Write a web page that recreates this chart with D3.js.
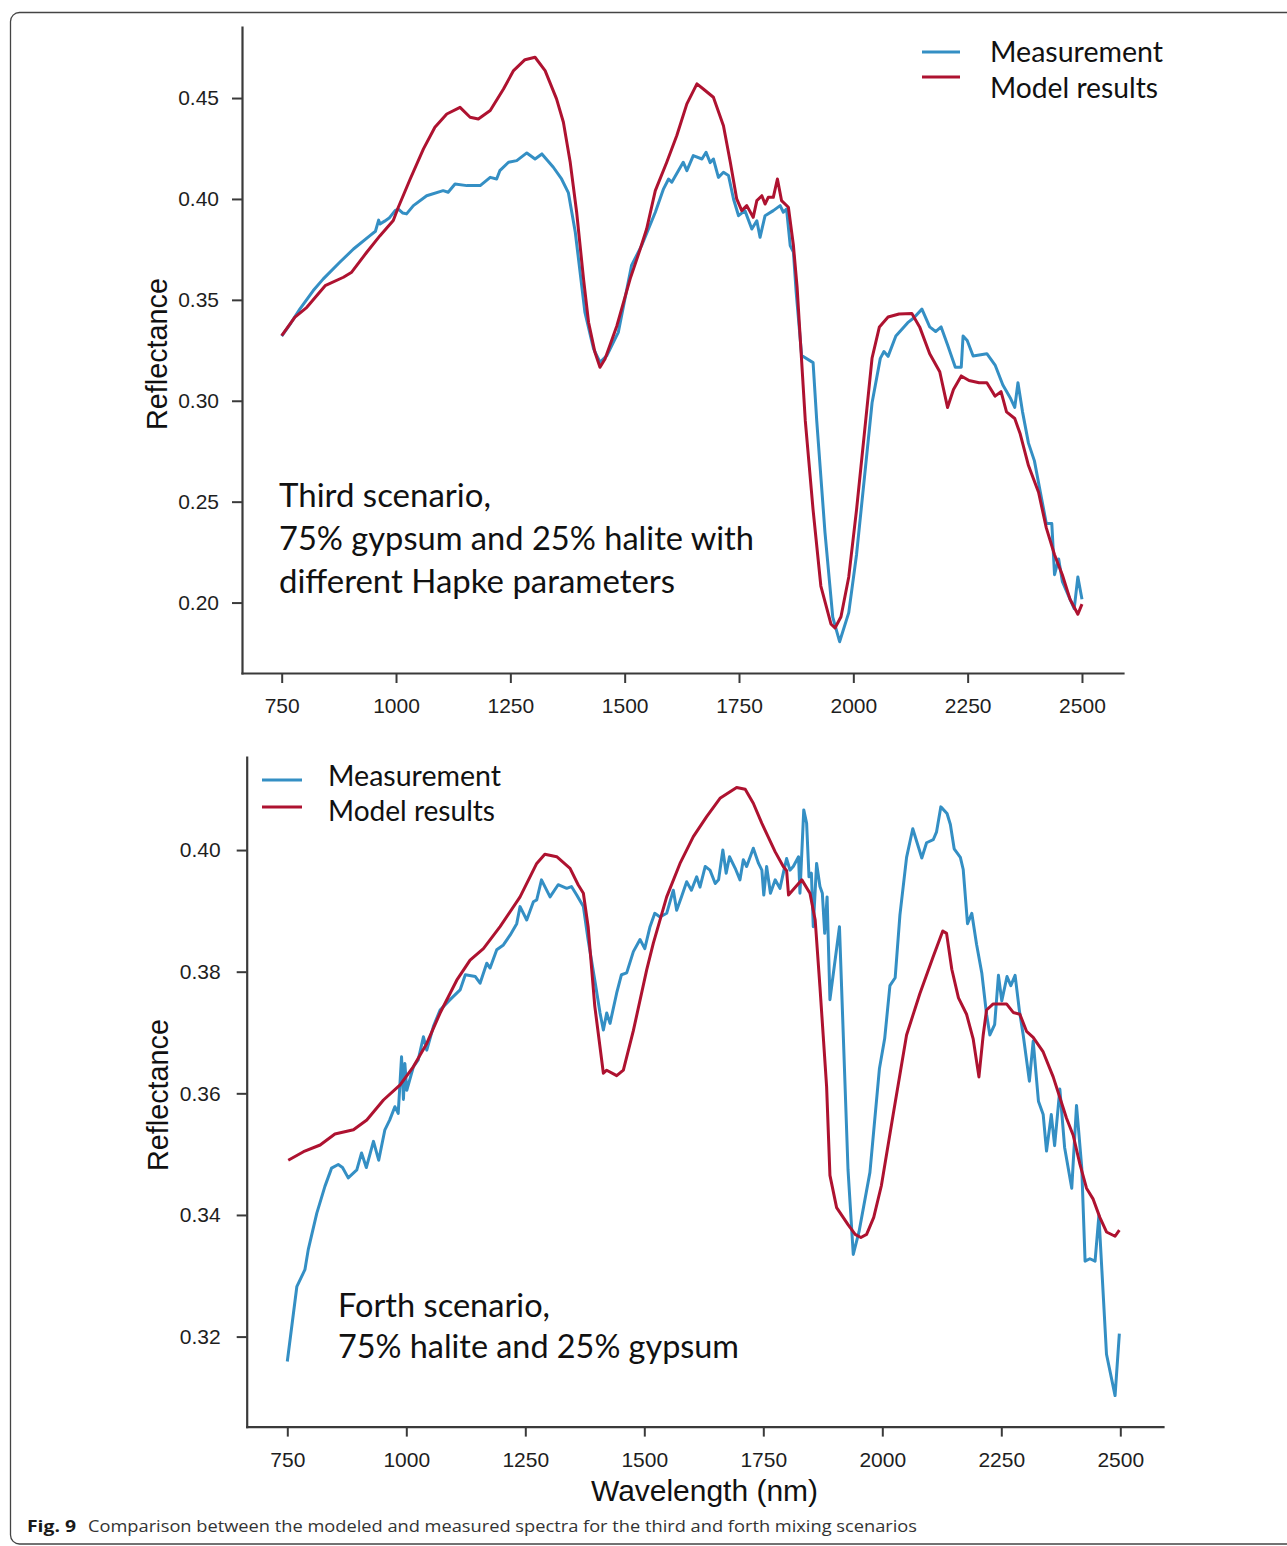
<!DOCTYPE html>
<html>
<head>
<meta charset="utf-8">
<script src="https://cdn.jsdelivr.net/npm/d3@7"></script>
<style>
  html, body { margin: 0; padding: 0; background: #fff; }
  svg { display: block; }
</style>
</head>
<body>
<svg id="fig" width="1287" height="1546"></svg>
<script>
// ---------------- DATA ----------------
const xTickValues = [750, 1000, 1250, 1500, 1750, 2000, 2250, 2500];
const topYTickValues = [0.20, 0.25, 0.30, 0.35, 0.40, 0.45];
const bottomYTickValues = [0.32, 0.34, 0.36, 0.38, 0.40];
const seriesNames = ["Measurement", "Model results"];

// Top panel (third scenario) – Measurement
const topMeasWl = [750,770,790,819,841,877,907,943,955,962,965,975,985,998,1005,1015,1023,1038,1067,1103,1114,1129,1155,1184,1206,1220,1227,1246,1264,1286,1304,1319,1344,1362,1377,1392,1413,1432,1446,1461,1486,1515,1537,1567,1585,1596,1603,1628,1636,1650,1669,1678,1687,1694,1705,1716,1727,1738,1749,1763,1778,1789,1796,1807,1825,1840,1847,1854,1862,1869,1875,1887,1912,1920,1938,1955,1970,1990,2007,2024,2041,2059,2067,2076,2093,2119,2132,2150,2167,2180,2192,2206,2223,2236,2240,2249,2262,2292,2310,2327,2344,2353,2360,2370,2383,2396,2409,2422,2434,2440,2449,2457,2474,2483,2491,2500];
const topMeasR = [0.332,0.3385,0.3455,0.3546,0.3604,0.3686,0.3752,0.3818,0.384,0.3895,0.3876,0.389,0.3905,0.3942,0.395,0.393,0.3926,0.3967,0.4016,0.4041,0.4033,0.4074,0.4066,0.4066,0.4107,0.4099,0.414,0.4182,0.419,0.4228,0.4198,0.4223,0.4157,0.4099,0.403,0.3835,0.3439,0.3257,0.3191,0.3224,0.3339,0.367,0.3769,0.3934,0.405,0.4099,0.4083,0.4182,0.414,0.4215,0.4198,0.4231,0.418,0.4198,0.4107,0.4132,0.4116,0.40,0.3917,0.3942,0.3851,0.3892,0.381,0.3917,0.3942,0.3967,0.3934,0.395,0.3769,0.3736,0.3538,0.3224,0.3189,0.290,0.2348,0.1928,0.1806,0.195,0.2237,0.2613,0.299,0.321,0.3244,0.322,0.3321,0.3387,0.341,0.3454,0.3366,0.3343,0.3366,0.3277,0.3166,0.3166,0.3321,0.3299,0.3222,0.3233,0.3177,0.3078,0.3011,0.2967,0.3089,0.2945,0.279,0.2702,0.2547,0.2392,0.2392,0.2138,0.2216,0.2105,0.2016,0.197,0.2127,0.2016];

// Top panel – Model results
const topModelWl = [750,779,805,845,885,903,936,965,994,1005,1031,1060,1085,1111,1140,1162,1180,1206,1235,1257,1282,1304,1326,1351,1366,1381,1395,1410,1421,1435,1446,1457,1483,1512,1534,1548,1567,1592,1614,1636,1658,1672,1694,1716,1731,1745,1756,1767,1781,1789,1800,1807,1814,1825,1834,1843,1858,1869,1877,1895,1912,1929,1951,1960,1973,1990,2007,2024,2041,2057,2076,2100,2128,2145,2167,2189,2206,2219,2236,2253,2275,2292,2310,2323,2335,2353,2365,2383,2405,2422,2440,2457,2474,2491,2500];
const topModelR = [0.3323,0.3414,0.3463,0.357,0.3612,0.3637,0.3736,0.3818,0.3893,0.3959,0.4099,0.4248,0.4355,0.4421,0.4454,0.4405,0.4396,0.4438,0.4545,0.4636,0.469,0.4702,0.4636,0.4496,0.438,0.418,0.3934,0.3604,0.3389,0.324,0.3166,0.3207,0.3372,0.3604,0.3752,0.3851,0.4041,0.4182,0.4314,0.4471,0.457,0.4545,0.4504,0.4363,0.4182,0.40,0.3942,0.3967,0.3909,0.3992,0.4016,0.3975,0.4008,0.4008,0.4099,0.3992,0.3959,0.3769,0.3564,0.29,0.2459,0.2082,0.1894,0.1874,0.193,0.2127,0.2459,0.2835,0.3212,0.3366,0.3415,0.343,0.3432,0.3366,0.3233,0.3144,0.2967,0.3056,0.3123,0.31,0.3089,0.3089,0.3023,0.3045,0.2945,0.2912,0.2835,0.2679,0.2547,0.237,0.2237,0.2138,0.2016,0.1942,0.1992];

// Bottom panel (forth scenario) – Measurement
const botMeasWl = [750,770,787,794,812,829,843,857,866,878,896,906,916,931,942,955,965,976,983,990,994,997,1001,1015,1025,1036,1043,1057,1071,1092,1113,1124,1145,1155,1169,1176,1190,1204,1218,1232,1239,1253,1267,1274,1284,1302,1319,1337,1347,1358,1372,1382,1396,1407,1414,1421,1428,1442,1452,1463,1477,1491,1501,1512,1522,1533,1547,1561,1568,1578,1589,1599,1610,1617,1628,1638,1649,1656,1665,1672,1679,1691,1701,1708,1715,1729,1740,1747,1751,1757,1765,1775,1785,1792,1799,1806,1813,1824,1827,1835,1841,1846,1851,1855,1862,1869,1874,1879,1884,1890,1910,1928,1939,1951,1974,1994,2005,2016,2027,2037,2051,2064,2083,2093,2107,2114,2123,2136,2143,2151,2164,2170,2179,2188,2198,2209,2219,2226,2236,2244,2251,2262,2270,2279,2288,2296,2309,2317,2328,2338,2345,2355,2362,2373,2383,2398,2408,2419,2426,2436,2447,2455,2471,2489,2498];
const botMeasR = [0.3159,0.3282,0.331,0.3343,0.3403,0.3447,0.3477,0.3483,0.3478,0.3461,0.3474,0.3502,0.3478,0.3521,0.349,0.354,0.3556,0.3578,0.3567,0.366,0.359,0.3649,0.3605,0.3644,0.3655,0.3693,0.3671,0.371,0.3737,0.3754,0.377,0.3795,0.3792,0.3781,0.3814,0.3806,0.3836,0.3844,0.386,0.3879,0.3907,0.3885,0.3915,0.3918,0.3951,0.3923,0.3943,0.3937,0.394,0.3926,0.3907,0.3852,0.3786,0.3732,0.3704,0.3732,0.3715,0.3765,0.3795,0.3798,0.3833,0.3853,0.3838,0.3874,0.3896,0.389,0.3896,0.3934,0.3901,0.3923,0.3948,0.3934,0.3956,0.3939,0.3973,0.3967,0.3945,0.3951,0.40,0.3962,0.3989,0.397,0.3951,0.3984,0.3973,0.4003,0.3978,0.3967,0.3926,0.3973,0.3929,0.3951,0.3937,0.3962,0.3986,0.3967,0.3973,0.3989,0.3929,0.4066,0.4044,0.3956,0.3962,0.3874,0.3978,0.394,0.3929,0.3863,0.3923,0.3754,0.3874,0.3474,0.3335,0.3372,0.347,0.3641,0.369,0.3777,0.379,0.3893,0.3988,0.4035,0.3987,0.4012,0.4017,0.403,0.4071,0.406,0.4042,0.4002,0.3988,0.3968,0.3879,0.3896,0.3845,0.3798,0.373,0.3696,0.3713,0.3794,0.3752,0.3792,0.3777,0.3794,0.3736,0.3696,0.362,0.3686,0.3587,0.3565,0.3505,0.3565,0.3514,0.3607,0.3511,0.3444,0.358,0.3478,0.3324,0.3328,0.3324,0.3399,0.3171,0.3103,0.3205];

// Bottom panel – Model results
const botModelWl = [752,784,819,850,889,917,952,987,1015,1043,1071,1106,1134,1162,1197,1239,1274,1291,1316,1344,1361,1372,1382,1396,1414,1421,1442,1456,1477,1505,1519,1547,1575,1603,1631,1659,1694,1712,1729,1747,1760,1775,1792,1799,1803,1813,1831,1848,1859,1869,1883,1890,1904,1928,1943,1955,1967,1982,1998,2023,2051,2079,2107,2127,2135,2146,2160,2177,2191,2203,2212,2219,2233,2261,2275,2289,2303,2317,2338,2359,2373,2387,2401,2415,2429,2443,2457,2471,2489,2498];
const botModelR = [0.349,0.3504,0.3515,0.3533,0.354,0.3556,0.3589,0.3614,0.3644,0.3682,0.3732,0.3786,0.3819,0.3838,0.3874,0.3923,0.3978,0.3993,0.3989,0.397,0.3943,0.3929,0.3874,0.3743,0.3633,0.3638,0.3629,0.3638,0.3703,0.3803,0.3847,0.3923,0.3978,0.4022,0.4055,0.4085,0.4103,0.41,0.4077,0.4044,0.4022,0.3997,0.3973,0.3966,0.3926,0.3935,0.3951,0.3929,0.3885,0.3775,0.3611,0.3465,0.3412,0.3384,0.3368,0.3363,0.3368,0.3396,0.3448,0.3566,0.3696,0.3764,0.3825,0.3867,0.3863,0.3804,0.3757,0.373,0.3689,0.3627,0.3696,0.3737,0.3747,0.3747,0.3733,0.373,0.3702,0.3692,0.3668,0.3627,0.3593,0.3559,0.3531,0.3484,0.3444,0.3426,0.3396,0.3372,0.3365,0.3375];

// ---------------- DRAWING ----------------
const BLUE = "#348fc4";
const RED = "#ae1230";
const AXIS = "#3a3a3a";
const svg = d3.select("#fig");

// outer figure frame (rounded, open on the right)
svg.append("rect")
  .attr("x", 10.5).attr("y", 12.5)
  .attr("width", 1300).attr("height", 1531.5)
  .attr("rx", 9).attr("ry", 9)
  .attr("fill", "none").attr("stroke", "#444").attr("stroke-width", 1.3);

const zip = (a, b) => a.map((d, i) => [d, b[i]]);

function addText(g, txt, x, y, opts) {
  const t = g.append("text").attr("x", x).attr("y", y).text(txt)
    .attr("font-family", opts.family)
    .attr("font-size", opts.size)
    .attr("fill", opts.fill || "#111");
  if (opts.weight) t.attr("font-weight", opts.weight);
  if (opts.anchor) t.attr("text-anchor", opts.anchor);
  if (opts.len) t.attr("textLength", opts.len).attr("lengthAdjust", "spacingAndGlyphs");
  if (opts.transform) t.attr("transform", opts.transform).attr("x", 0).attr("y", 0);
  return t;
}

function panel(cfg) {
  const x = d3.scaleLinear().domain(cfg.xDomain).range([cfg.left, cfg.right]);
  const y = d3.scaleLinear().domain(cfg.yDomain).range([cfg.bottom, cfg.top]);
  const g = svg.append("g");

  const xAxis = g.append("g").attr("transform", `translate(0,${cfg.bottom})`)
    .call(d3.axisBottom(x).tickValues(xTickValues).tickFormat(d3.format("d"))
      .tickSize(10).tickSizeOuter(0).tickPadding(15));
  const yAxis = g.append("g").attr("transform", `translate(${cfg.left},0)`)
    .call(d3.axisLeft(y).tickValues(cfg.yTicks).tickFormat(d3.format(".2f"))
      .tickSize(10).tickSizeOuter(0).tickPadding(cfg.yPad));
  [xAxis, yAxis].forEach(a => {
    a.select(".domain").attr("stroke", AXIS).attr("stroke-width", 2.2).attr("stroke-linecap", "square");
    a.selectAll(".tick line").attr("stroke", AXIS).attr("stroke-width", 2);
    a.selectAll(".tick text").attr("font-family", "Liberation Sans, Arial, sans-serif")
      .attr("font-size", 21).attr("fill", "#1e1e1e");
  });

  const line = d3.line().x(d => x(d[0])).y(d => y(d[1])).curve(d3.curveLinear);
  g.append("path").datum(zip(cfg.measWl, cfg.measR))
    .attr("d", line).attr("fill", "none").attr("stroke", BLUE)
    .attr("stroke-width", 3).attr("stroke-linejoin", "round");
  g.append("path").datum(zip(cfg.modelWl, cfg.modelR))
    .attr("d", line).attr("fill", "none").attr("stroke", RED)
    .attr("stroke-width", 3).attr("stroke-linejoin", "round");

  // y axis title
  addText(g, "Reflectance", 0, 0, {
    family: "Liberation Sans, Arial, sans-serif", size: 30, fill: "#111",
    anchor: "middle", len: 152,
    transform: `translate(${cfg.yTitleX},${cfg.yTitleY}) rotate(-90)`
  });

  // legend
  const lg = cfg.legend;
  [BLUE, RED].forEach((c, i) => {
    g.append("line").attr("x1", lg.x1).attr("x2", lg.x2)
      .attr("y1", lg.lineY[i]).attr("y2", lg.lineY[i])
      .attr("stroke", c).attr("stroke-width", 3);
    addText(g, seriesNames[i], lg.tx, lg.baseY[i], {
      family: "Lato, 'Open Sans', sans-serif", size: 29, fill: "#111", len: lg.len[i]
    });
  });

  // annotation
  cfg.note.lines.forEach((s, i) => {
    addText(g, s, cfg.note.x, cfg.note.baseY[i], {
      family: "Lato, 'Open Sans', sans-serif", size: 33, fill: "#111", len: cfg.note.len[i]
    });
  });
  return g;
}

panel({
  xDomain: [663.2, 2589.7], yDomain: [0.1651, 0.4852],
  left: 242, right: 1123, top: 27, bottom: 673,
  yTicks: topYTickValues, yPad: 13,
  measWl: topMeasWl, measR: topMeasR, modelWl: topModelWl, modelR: topModelR,
  yTitleX: 167, yTitleY: 354,
  legend: { x1: 922, x2: 960, lineY: [52, 77], tx: 990, baseY: [62, 98], len: [173, 168] },
  note: { x: 279, baseY: [507, 550, 593],
          lines: ["Third scenario,", "75% gypsum and 25% halite with", "different Hapke parameters"],
          len: [212, 475, 396] }
});

panel({
  xDomain: [664.7, 2589.7], yDomain: [0.3052, 0.4153],
  left: 246.7, right: 1163, top: 757, bottom: 1426.6,
  yTicks: bottomYTickValues, yPad: 16,
  measWl: botMeasWl, measR: botMeasR, modelWl: botModelWl, modelR: botModelR,
  yTitleX: 168, yTitleY: 1095,
  legend: { x1: 262, x2: 302, lineY: [780, 807], tx: 328, baseY: [786, 821], len: [173, 167] },
  note: { x: 338, baseY: [1317, 1358],
          lines: ["Forth scenario,", "75% halite and 25% gypsum"],
          len: [212, 401] }
});

// x axis title (shared, under bottom panel)
addText(svg, "Wavelength (nm)", 704.5, 1501, {
  family: "Liberation Sans, Arial, sans-serif", size: 30, fill: "#111", anchor: "middle", len: 227
});

// caption
addText(svg, "Fig. 9", 27, 1532, {
  family: "'Open Sans', Lato, sans-serif", size: 16, weight: "bold", fill: "#1a1a1a", len: 49
});
addText(svg, "Comparison between the modeled and measured spectra for the third and forth mixing scenarios", 88, 1532, {
  family: "'Open Sans', Lato, sans-serif", size: 16, fill: "#333", len: 829
});
</script>
</body>
</html>
